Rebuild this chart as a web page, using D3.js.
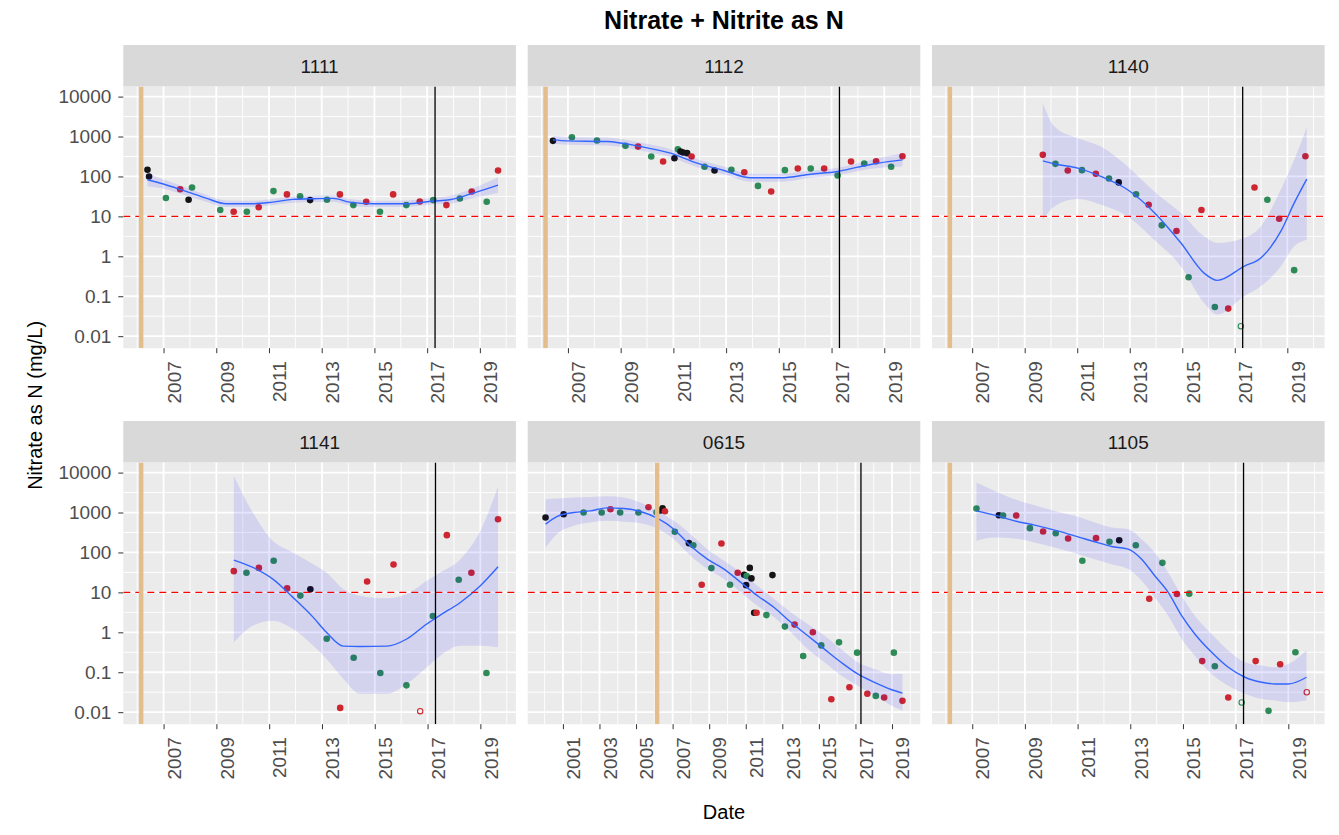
<!DOCTYPE html>
<html>
<head>
<meta charset="utf-8">
<script src="https://cdn.jsdelivr.net/npm/d3@7"></script>
<style>
body { margin: 0; background: #fff; }
svg text { font-family: "Liberation Sans", Arial, sans-serif; }
</style>
</head>
<body>
<svg id="chart" width="1339" height="835"></svg>
<script>
// site panels, in facet order
const sites = ['1111', '1112', '1140', '1141', '0615', '1105'];
const yTicks = [0.01, 0.1, 1, 10, 100, 1000, 10000];
const limitValue = 10;          // dashed red reference line
const markYears = [2006.15, 2017.3]; // tan line, black line

// points: [decimal year, mg/L, colour code] (r/g/k filled, ro/go open)
const pts1111 = [
  [2006.39,147,'k'],[2006.45,100,'k'],[2007.09,29,'g'],[2007.63,48,'r'],[2007.95,26,'k'],[2008.08,53,'g'],
  [2009.15,14.4,'g'],[2009.66,13.1,'r'],[2010.16,13.1,'g'],[2010.61,17,'r'],[2011.17,43,'g'],[2011.68,35.5,'r'],
  [2012.18,32,'g'],[2012.56,25.6,'k'],[2013.2,26,'g'],[2013.69,35.5,'r'],[2014.2,19.2,'g'],[2014.69,23.3,'r'],
  [2015.21,13.1,'g'],[2015.71,35.5,'r'],[2016.21,19.2,'g'],[2016.72,23.6,'r'],[2017.23,25.6,'g'],[2017.73,19.2,'r'],
  [2018.24,28,'g'],[2018.69,42,'r'],[2019.26,23.3,'g'],[2019.69,141,'r']
];
const pts1112 = [
  [2006.43,780,'k'],[2007.15,962,'g'],[2008.1,794,'g'],[2009.18,584,'g'],[2009.66,560,'r'],[2010.16,316,'g'],
  [2010.61,237,'r'],[2011.04,287,'k'],[2011.17,482,'g'],[2011.27,422,'k'],[2011.37,398,'k'],[2011.52,383,'k'],
  [2011.69,316,'r'],[2012.18,175,'g'],[2012.56,141,'k'],[2013.2,147,'g'],[2013.69,128,'r'],[2014.21,58,'g'],
  [2014.71,42,'r'],[2015.23,144,'g'],[2015.72,158,'r'],[2016.21,158,'g'],[2016.72,158,'r'],[2017.23,106,'g'],
  [2017.74,237,'r'],[2018.24,211,'g'],[2018.69,241,'r'],[2019.26,175,'g'],[2019.69,322,'r']
];
const pts1140 = [
  [2009.69,348,'r'],[2010.17,207,'g'],[2010.64,141,'r'],[2011.18,144,'g'],[2011.71,117,'r'],[2012.21,89,'g'],
  [2012.58,71,'k'],[2013.24,36,'g'],[2013.72,19.6,'r'],[2014.22,5.96,'g'],[2014.78,4.3,'r'],[2015.24,0.3,'g'],
  [2015.73,14.4,'r'],[2016.24,0.054,'g'],[2016.75,0.049,'r'],[2017.23,0.0178,'go'],[2017.75,53,'r'],
  [2018.24,26,'g'],[2018.69,8.7,'r'],[2019.26,0.45,'g'],[2019.69,322,'r']
];
const pts1141 = [
  [2009.66,34,'r'],[2010.14,31,'g'],[2010.61,41,'r'],[2011.17,62,'g'],[2011.68,12.6,'r'],[2012.18,8.3,'g'],
  [2012.56,11.9,'k'],[2013.18,0.69,'g'],[2013.69,0.0128,'r'],[2014.2,0.23,'g'],[2014.71,18.8,'r'],
  [2015.21,0.096,'g'],[2015.71,50,'r'],[2016.2,0.047,'g'],[2016.72,0.0106,'ro'],[2017.2,2.56,'g'],
  [2017.73,271,'r'],[2018.18,20.7,'g'],[2018.66,31,'r'],[2019.23,0.096,'g'],[2019.67,681,'r']
];
const pts0615 = [
  [2000.05,750,'k'],[2001.04,909,'k'],[2002.13,1000,'g'],[2003.12,1000,'g'],[2003.6,1210,'r'],[2004.13,1000,'g'],
  [2005.13,1000,'g'],[2005.68,1360,'r'],[2006.12,1020,'g'],[2006.34,1120,'k'],[2006.45,1280,'k'],[2006.58,1080,'r'],
  [2007.12,329,'g'],[2007.89,171,'k'],[2008.13,152,'g'],[2008.59,15.6,'r'],[2009.12,40.6,'g'],[2009.67,168,'r'],
  [2010.14,15.6,'g'],[2010.56,31,'r'],[2010.91,27.7,'k'],[2011.02,15.2,'k'],[2011.05,25.6,'g'],[2011.22,41,'k'],
  [2011.31,22.4,'k'],[2011.46,3.1,'k'],[2011.59,3.1,'r'],[2012.13,2.7,'g'],[2012.46,27.1,'k'],[2013.14,1.39,'g'],
  [2013.67,1.56,'r'],[2014.14,0.256,'g'],[2014.67,1.0,'r'],[2015.13,0.47,'g'],[2015.68,0.021,'r'],[2016.1,0.56,'g'],
  [2016.67,0.042,'r'],[2017.09,0.31,'g'],[2017.65,0.029,'r'],[2018.11,0.0256,'g'],[2018.57,0.0233,'r'],
  [2019.1,0.31,'g'],[2019.57,0.0192,'r']
];
const pts1105 = [
  [2007.16,1260,'g'],[2008.01,858,'k'],[2008.17,841,'g'],[2008.67,841,'r'],[2009.19,406,'g'],[2009.69,335,'r'],
  [2010.17,304,'g'],[2010.64,224,'r'],[2011.18,62,'g'],[2011.7,228,'r'],[2012.21,185,'g'],[2012.58,203,'k'],
  [2013.21,152,'g'],[2013.72,6.95,'r'],[2014.22,55,'g'],[2014.77,9.1,'r'],[2015.24,9.3,'g'],[2015.73,0.19,'r'],
  [2016.21,0.141,'g'],[2016.72,0.0233,'r'],[2017.23,0.0175,'go'],[2017.76,0.19,'r'],[2018.25,0.0108,'g'],
  [2018.69,0.158,'r'],[2019.27,0.316,'g'],[2019.7,0.0316,'ro']
];

// loess fit: [decimal year, fit, lower, upper]
const fit1111 = [
  [2006.39,82.6,56,121],[2006.96,65.6,50,86],[2007.85,42.2,33.5,53],[2008.61,28.7,23.3,34.8],
  [2009.37,20.7,17.1,25.1],[2010.38,20.7,17.1,24.6],[2011.14,22.8,19.2,27.1],[2011.9,26.6,22,31.6],
  [2012.67,27.7,22.8,32.9],[2013.43,28.2,23.3,33.5],[2014.06,22.8,18.8,27.1],[2014.95,20.7,17.1,24.6],
  [2016.21,20.7,17.1,25.1],[2017.23,24.2,20,29.3],[2017.86,26.1,20.7,32.9],[2018.75,38.3,28.7,51],
  [2019.69,60.7,38.3,96]
];
const fit1112 = [
  [2006.43,825,656,1040],[2006.96,780,619,980],[2008.48,750,596,944],[2009.75,562,447,708],
  [2010.89,383,304,482],[2011.9,215,171,271],[2012.92,141,112,178],[2013.93,92.6,73.6,117],
  [2015.07,92.6,73.6,117],[2016.21,114,92.6,141],[2017.23,133,108,165],[2017.99,171,136,215],
  [2018.75,215,162,287],[2019.69,261,178,383]
];
const fit1140 = [
  [2009.69,246,8.25,6810],[2010.13,207,17.8,1780],[2011.02,162,27.1,909],[2011.9,100,19.6,562],
  [2012.92,46.4,10,178],[2013.93,12.6,2.61,42.2],[2014.95,2.15,0.56,12.1],[2015.83,0.38,0.068,3.16],
  [2016.34,0.25,0.035,2.15],[2017.35,0.56,0.1,2.87],[2017.99,0.91,0.178,5.6],[2018.75,4.2,0.56,46.4],
  [2019.26,21.5,1.78,261],[2019.74,86,2.61,1710]
];
const fit1141 = [
  [2009.66,64.3,0.56,8250],[2010.38,42.2,1.47,1000],[2011.14,21.5,1.96,196],[2011.9,7.5,1.21,100],
  [2012.67,2.37,0.46,51],[2013.17,1.0,0.215,31.6],[2013.81,0.45,0.068,12.1],[2014.44,0.44,0.029,8.25],
  [2015.45,0.45,0.029,7.1],[2016.21,0.68,0.051,9.1],[2016.97,1.62,0.133,19.6],[2017.48,2.7,0.26,31.6],
  [2018.24,5.6,0.46,68],[2019.0,14.7,0.46,348],[2019.67,43.8,0.42,4470]
];
const fit0615 = [
  [2000.05,511,133,2150],[2000.67,794,287,2240],[2001.59,1000,464,2370],[2002.5,1100,562,2460],
  [2003.41,1310,619,2560],[2004.33,1260,584,2370],[2005.24,1060,541,1780],[2006.16,721,398,1100],
  [2007.07,383,215,619],[2007.98,147,82.6,287],[2008.9,68,38.3,121],[2009.81,38.3,21.5,62],
  [2010.73,17.8,10,31.6],[2011.64,8.25,4.6,14.7],[2012.55,4.2,2.37,6.8],[2013.47,1.78,1.0,3.16],
  [2014.38,0.83,0.38,1.62],[2015.3,0.38,0.178,0.83],[2016.21,0.178,0.083,0.38],[2017.12,0.091,0.046,0.178],
  [2018.04,0.056,0.026,0.121],[2018.95,0.037,0.0147,0.091],[2019.57,0.030,0.011,0.091]
];
const fit1105 = [
  [2007.16,1100,196,5620],[2007.85,858,237,3480],[2008.61,619,224,2150],[2009.37,482,178,1520],
  [2010.13,361,133,1100],[2010.89,261,96,825],[2011.65,185,68,562],[2012.29,141,51,422],
  [2012.92,121,38.3,383],[2013.43,68,19.6,215],[2013.93,26.1,7.5,100],[2014.44,10,2.61,31.6],
  [2014.95,2.61,0.68,8.25],[2015.45,0.91,0.26,2.61],[2016.09,0.316,0.091,0.91],[2016.72,0.133,0.046,0.35],
  [2017.35,0.075,0.029,0.178],[2017.99,0.056,0.0215,0.147],[2018.5,0.051,0.0196,0.133],
  [2019.0,0.051,0.0178,0.16],[2019.69,0.075,0.0196,0.35]
];

const pointsBySite = { '1111': pts1111, '1112': pts1112, '1140': pts1140, '1141': pts1141, '0615': pts0615, '1105': pts1105 };
const fitBySite = { '1111': fit1111, '1112': fit1112, '1140': fit1140, '1141': fit1141, '0615': fit0615, '1105': fit1105 };

const COLORS = { r: '#CD2631', g: '#2E8B57', k: '#141414' };

// layout
const colX = [123.3, 527.7, 932],
    panelW = 392.6,
    rowTop = [45, 421],
    stripH = 41.6,
    plotH = 261.6;

const svg = d3.select('#chart');

const yScale = d3.scaleLog()
    .domain([0.005, 17800])
    .range([plotH, 0]);

// minor y lines sit half way between decades on the log axis
const yMinor = yTicks.slice(0, -1).map((d, i) => Math.sqrt(d * yTicks[i + 1]));

svg.append('text')
    .attr('x', colX[0] + (colX[2] + panelW - colX[0]) / 2)
    .attr('y', 29)
    .attr('text-anchor', 'middle')
    .attr('font-size', 25)
    .attr('font-weight', 'bold')
    .attr('fill', '#000')
    .text('Nitrate + Nitrite as N');

sites.forEach((site, i) => {
    const col = i % 3, row = Math.floor(i / 3);
    const pts = pointsBySite[site], fit = fitBySite[site];

    // free x per panel: data extent plus marker lines, 5% padding
    const yrs = pts.map(d => d[0]).concat(fit.map(d => d[0]), markYears);
    const ext = d3.extent(yrs), pad = (ext[1] - ext[0]) * 0.05;
    const xScale = d3.scaleLinear()
        .domain([ext[0] - pad, ext[1] + pad])
        .range([0, panelW]);
    const lo = Math.ceil(xScale.domain()[0]), hi = Math.floor(xScale.domain()[1]);
    const xMajor = d3.range(lo, hi + 1).filter(y => y % 2 === 1);
    const xMinor = d3.range(lo, hi + 1).filter(y => y % 2 === 0);

    const g = svg.append('g')
        .attr('transform', `translate(${colX[col]}, ${rowTop[row]})`);

    // strip
    g.append('rect')
        .attr('width', panelW).attr('height', stripH)
        .attr('fill', '#D9D9D9');
    g.append('text')
        .attr('x', panelW / 2).attr('y', stripH / 2 + 7)
        .attr('text-anchor', 'middle')
        .attr('font-size', 19)
        .attr('fill', '#1A1A1A')
        .text(site);

    const p = g.append('g').attr('transform', `translate(0, ${stripH})`);
    p.append('rect')
        .attr('width', panelW).attr('height', plotH)
        .attr('fill', '#EBEBEB');

    p.append('clipPath').attr('id', `clip-${i}`)
        .append('rect').attr('width', panelW).attr('height', plotH);

    const grid = p.append('g').attr('stroke', '#fff').attr('fill', 'none');
    grid.selectAll('.ymin').data(yMinor).join('line')
        .attr('x2', panelW).attr('y1', d => yScale(d)).attr('y2', d => yScale(d))
        .attr('stroke-width', 0.9);
    grid.selectAll('.xmin').data(xMinor).join('line')
        .attr('y2', plotH).attr('x1', d => xScale(d)).attr('x2', d => xScale(d))
        .attr('stroke-width', 0.9);
    grid.selectAll('.ymaj').data(yTicks).join('line')
        .attr('x2', panelW).attr('y1', d => yScale(d)).attr('y2', d => yScale(d))
        .attr('stroke-width', 1.8);
    grid.selectAll('.xmaj').data(xMajor).join('line')
        .attr('y2', plotH).attr('x1', d => xScale(d)).attr('x2', d => xScale(d))
        .attr('stroke-width', 1.8);

    const marks = p.append('g').attr('clip-path', `url(#clip-${i})`);

    marks.selectAll('circle').data(pts).join('circle')
        .attr('cx', d => xScale(d[0]))
        .attr('cy', d => yScale(d[1]))
        .attr('r', d => d[2].length > 1 ? 2.7 : 3.3)
        .attr('fill', d => d[2].length > 1 ? 'none' : COLORS[d[2]])
        .attr('stroke', d => d[2].length > 1 ? COLORS[d[2][0]] : 'none')
        .attr('stroke-width', 1.1);

    const area = d3.area()
        .x(d => xScale(d[0]))
        .y0(d => yScale(d[2]))
        .y1(d => yScale(d[3]))
        .curve(d3.curveMonotoneX);
    const line = d3.line()
        .x(d => xScale(d[0]))
        .y(d => yScale(d[1]))
        .curve(d3.curveMonotoneX);

    marks.append('path').datum(fit)
        .attr('d', area)
        .attr('fill', '#0000FF')
        .attr('fill-opacity', 0.1);
    marks.append('path').datum(fit)
        .attr('d', line)
        .attr('fill', 'none')
        .attr('stroke', '#3366FF')
        .attr('stroke-width', 1.4);

    marks.append('line')
        .attr('x2', panelW)
        .attr('y1', yScale(limitValue)).attr('y2', yScale(limitValue))
        .attr('stroke', '#FF0000')
        .attr('stroke-width', 1.4)
        .attr('stroke-dasharray', '7,5');

    marks.append('line')
        .attr('x1', xScale(markYears[0])).attr('x2', xScale(markYears[0]))
        .attr('y2', plotH)
        .attr('stroke', '#E3BE8C')
        .attr('stroke-width', 4.5);
    marks.append('line')
        .attr('x1', xScale(markYears[1])).attr('x2', xScale(markYears[1]))
        .attr('y2', plotH)
        .attr('stroke', '#000')
        .attr('stroke-width', 1.3);

    // x axis on every panel
    const xAxis = p.append('g')
        .attr('transform', `translate(0, ${plotH})`)
        .call(d3.axisBottom(xScale).tickValues(xMajor).tickSize(5).tickFormat(d3.format('d')));
    xAxis.select('.domain').remove();
    xAxis.selectAll('line').attr('stroke', '#333');
    xAxis.selectAll('text')
        .attr('transform', 'rotate(-90)')
        .attr('x', -13).attr('y', 0).attr('dy', '0.88em')
        .style('text-anchor', 'end')
        .attr('font-size', 19)
        .attr('font-family', '"Liberation Sans", Arial, sans-serif')
        .attr('fill', '#4D4D4D');

    if (col === 0) {
        const yAxis = p.append('g')
            .call(d3.axisLeft(yScale).tickValues(yTicks).tickSize(5).tickPadding(7)
                .tickFormat(d => String(d)));
        yAxis.select('.domain').remove();
        yAxis.selectAll('line').attr('stroke', '#333');
        yAxis.selectAll('text')
            .attr('font-size', 19)
            .attr('font-family', '"Liberation Sans", Arial, sans-serif')
            .attr('fill', '#4D4D4D');
    }
});

svg.append('text')
    .attr('transform', `translate(42, ${(rowTop[0] + stripH + rowTop[1] + stripH + plotH) / 2}) rotate(-90)`)
    .attr('text-anchor', 'middle')
    .attr('font-size', 20)
    .attr('fill', '#000')
    .text('Nitrate as N (mg/L)');

svg.append('text')
    .attr('x', colX[0] + (colX[2] + panelW - colX[0]) / 2)
    .attr('y', 819)
    .attr('text-anchor', 'middle')
    .attr('font-size', 20)
    .attr('fill', '#000')
    .text('Date');
</script>
</body>
</html>
